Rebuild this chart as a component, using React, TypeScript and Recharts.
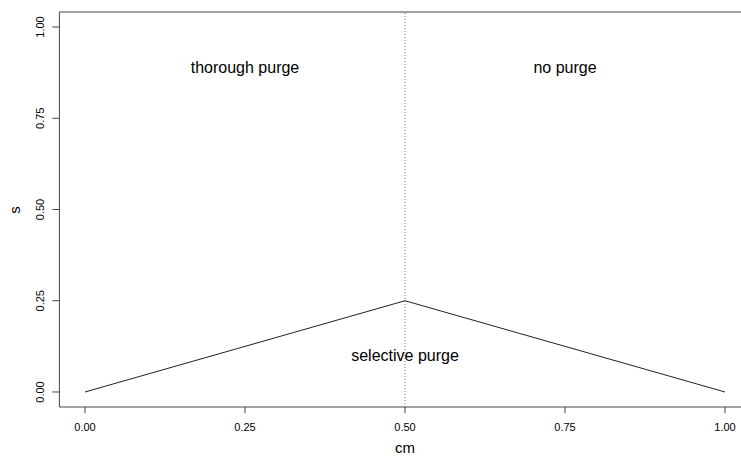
import React from 'react';
import { LineChart, Line, XAxis, YAxis, ReferenceLine, ReferenceArea, ReferenceDot } from 'recharts';

const cmValues = [0, 0.5, 1];
const sValues = [0, 0.25, 0];
const xTicks = [0, 0.25, 0.5, 0.75, 1];
const yTicks = [0, 0.25, 0.5, 0.75, 1];
const regionLabels = ['thorough purge', 'no purge', 'selective purge'];
const regionX = [0.25, 0.75, 0.5];
const regionY = [0.89, 0.89, 0.1];

const data = cmValues.map((cm, i) => ({ cm, s: sValues[i] }));
const annotations = regionLabels.map((label, i) => ({ label, x: regionX[i], y: regionY[i] }));

const FONT = 'Liberation Sans, Arial, Helvetica, sans-serif';

const YTick = (props: any) => {
  const { y, payload } = props;
  return (
    <text
      x={44}
      y={y}
      transform={`rotate(-90, 44, ${y})`}
      textAnchor="middle"
      fontSize={11}
      fontFamily={FONT}
      fill="#000"
    >
      {payload.value.toFixed(2)}
    </text>
  );
};

const XTick = (props: any) => {
  const { x, payload } = props;
  return (
    <text x={x} y={431} textAnchor="middle" fontSize={11} fontFamily={FONT} fill="#000">
      {payload.value.toFixed(2)}
    </text>
  );
};

export default function App() {
  return (
    <div style={{ position: 'absolute', left: 0, top: 0, width: 741, height: 456, overflow: 'hidden', background: '#fff' }}>
      <LineChart width={760} height={456} data={data} margin={{ top: 12, right: 9.4, bottom: 0, left: 0 }}>
        <XAxis
          dataKey="cm"
          type="number"
          domain={[-0.04, 1.04]}
          ticks={xTicks}
          allowDataOverflow
          axisLine={false}
          tickSize={6}
          tickLine={{ stroke: '#444' }}
          tick={<XTick />}
          height={49}
          label={{
            content: () => (
              <text x={405} y={453} textAnchor="middle" fontSize={15} fontFamily={FONT} fill="#000">cm</text>
            ),
          }}
        />
        <YAxis
          dataKey="s"
          type="number"
          domain={[-0.0411, 1.0411]}
          ticks={yTicks}
          allowDataOverflow
          axisLine={false}
          tickSize={7}
          tickLine={{ stroke: '#444' }}
          tick={<YTick />}
          width={59.4}
          label={{
            content: () => (
              <text x={20} y={210} transform="rotate(-90, 20, 210)" textAnchor="middle" fontSize={15} fontFamily={FONT} fill="#000">s</text>
            ),
          }}
        />
        <ReferenceArea
          x1={-0.04}
          x2={1.04}
          y1={-0.0411}
          y2={1.0411}
          fill="none"
          fillOpacity={0}
          stroke="#444"
          strokeWidth={1}
          ifOverflow="visible"
        />
        <ReferenceLine x={0.5} stroke="#777" strokeDasharray="1 2" strokeWidth={1} />
        <Line
          dataKey="s"
          stroke="#222"
          strokeWidth={1}
          dot={false}
          isAnimationActive={false}
        />
        {annotations.map((a) => (
          <ReferenceDot
            key={a.label}
            x={a.x}
            y={a.y}
            r={0}
            ifOverflow="visible"
            shape={(p: any) => (
              <text x={p.cx} y={p.cy} textAnchor="middle" dominantBaseline="central" fontSize={16} fontFamily={FONT} fill="#000">
                {a.label}
              </text>
            )}
          />
        ))}
      </LineChart>
    </div>
  );
}
